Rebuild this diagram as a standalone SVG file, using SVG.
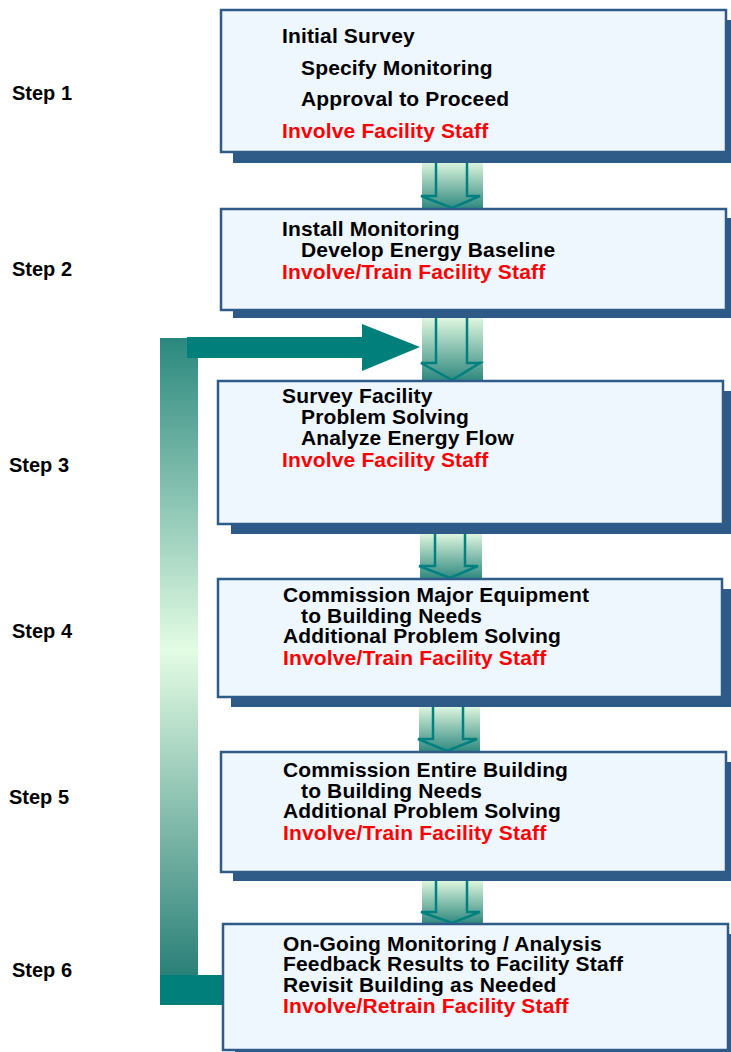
<svg xmlns="http://www.w3.org/2000/svg" width="731" height="1052" viewBox="0 0 731 1052">
  <style>
    .box { fill: #EEF6FE; stroke: #2F5B88; stroke-width: 2.5; }
    .shadow { fill: #2E5A87; }
    .t { font-family: "Liberation Sans", Arial, sans-serif; font-weight: bold; font-size: 21px; letter-spacing: 0.15px; fill: #000; }
    .r { fill: #FF0000; }
    .step { font-family: "Liberation Sans", Arial, sans-serif; font-weight: bold; font-size: 20px; fill: #000; }
    .flow { fill: url(#flowGrad); }
    .flowLine { fill: none; stroke: #008080; stroke-width: 2.5; stroke-linejoin: miter; }
    .teal { fill: #007F7B; }
  </style>
  <defs>
    <linearGradient id="flowGrad" x1="0" y1="0" x2="0" y2="1">
      <stop offset="0" stop-color="#E4FAE2"/>
      <stop offset="1" stop-color="#2E887E"/>
    </linearGradient>
    <linearGradient id="loopGrad" gradientUnits="userSpaceOnUse" x1="0" y1="338" x2="0" y2="975">
      <stop offset="0" stop-color="#2A887E"/>
      <stop offset="0.49" stop-color="#E4FCE4"/>
      <stop offset="1" stop-color="#2A8078"/>
    </linearGradient>
  </defs>

  <!-- step labels -->
  <g id="step-labels">
    <text class="step" x="12" y="100">Step 1</text>
    <text class="step" x="12" y="276">Step 2</text>
    <text class="step" x="9" y="472">Step 3</text>
    <text class="step" x="12" y="638">Step 4</text>
    <text class="step" x="9" y="804">Step 5</text>
    <text class="step" x="12" y="977">Step 6</text>
  </g>

  <!-- connectors: shaded down arrows and the feedback loop -->
  <g id="connectors">
    <rect class="flow" x="422" y="160" width="61" height="49"/>
    <polyline class="flowLine" points="436,160 436,196 421,196 452,208 480,196 467,196 467,160"/>

    <rect class="flow" x="422" y="316" width="61" height="65"/>
    <polyline class="flowLine" points="436,316 436,363 421,363 452,380 480,363 467,363 467,316"/>

    <rect class="flow" x="420" y="532" width="62" height="47"/>
    <polyline class="flowLine" points="435,532 435,566 419,566 450,578 478,566 465,566 465,532"/>

    <rect class="flow" x="419" y="705" width="61" height="47"/>
    <polyline class="flowLine" points="433,705 433,739 418,739 447,751 477,739 463,739 463,705"/>

    <rect class="flow" x="422" y="879" width="61" height="45"/>
    <polyline class="flowLine" points="436,879 436,912 421,912 452,923 480,912 467,912 467,879"/>

    <!-- feedback loop from step 6 back to step 3 -->
    <rect x="160" y="338" width="38" height="637" fill="url(#loopGrad)"/>
    <rect class="teal" x="160" y="975" width="66" height="30"/>
    <rect class="teal" x="187" y="337" width="176" height="21"/>
    <polygon class="teal" points="362,324 420,347 362,371"/>
  </g>

  <g id="step1">
    <rect class="shadow" x="233" y="20" width="505" height="143"/>
    <rect class="box" x="221" y="10" width="505" height="142"/>
    <text class="t" x="282" y="43">Initial Survey</text>
    <text class="t" x="301" y="75">Specify Monitoring</text>
    <text class="t" x="301" y="106">Approval to Proceed</text>
    <text class="t r" x="282" y="138">Involve Facility Staff</text>
  </g>

  <g id="step2">
    <rect class="shadow" x="233" y="218" width="505" height="100"/>
    <rect class="box" x="221" y="209" width="505" height="101"/>
    <text class="t" x="282" y="236">Install Monitoring</text>
    <text class="t" x="301" y="257">Develop Energy Baseline</text>
    <text class="t r" x="282" y="279">Involve/Train Facility Staff</text>
  </g>

  <g id="step3">
    <rect class="shadow" x="231" y="391" width="505" height="143"/>
    <rect class="box" x="218" y="381" width="505" height="143"/>
    <text class="t" x="282" y="403">Survey Facility</text>
    <text class="t" x="301" y="424">Problem Solving</text>
    <text class="t" x="301" y="445">Analyze Energy Flow</text>
    <text class="t r" x="282" y="467">Involve Facility Staff</text>
  </g>

  <g id="step4">
    <rect class="shadow" x="231" y="589" width="505" height="118"/>
    <rect class="box" x="218" y="579" width="504" height="118"/>
    <text class="t" x="283" y="602">Commission Major Equipment</text>
    <text class="t" x="301" y="623">to Building Needs</text>
    <text class="t" x="283" y="643">Additional Problem Solving</text>
    <text class="t r" x="283" y="665">Involve/Train Facility Staff</text>
  </g>

  <g id="step5">
    <rect class="shadow" x="233" y="762" width="505" height="119"/>
    <rect class="box" x="221" y="752" width="505" height="120"/>
    <text class="t" x="283" y="777">Commission Entire Building</text>
    <text class="t" x="301" y="798">to Building Needs</text>
    <text class="t" x="283" y="818">Additional Problem Solving</text>
    <text class="t r" x="283" y="840">Involve/Train Facility Staff</text>
  </g>

  <g id="step6">
    <rect class="shadow" x="235" y="934" width="505" height="130"/>
    <rect class="box" x="223" y="924" width="505" height="126"/>
    <text class="t" x="283" y="951">On-Going Monitoring / Analysis</text>
    <text class="t" x="283" y="971">Feedback Results to Facility Staff</text>
    <text class="t" x="283" y="992">Revisit Building as Needed</text>
    <text class="t r" x="283" y="1013">Involve/Retrain Facility Staff</text>
  </g>
</svg>
